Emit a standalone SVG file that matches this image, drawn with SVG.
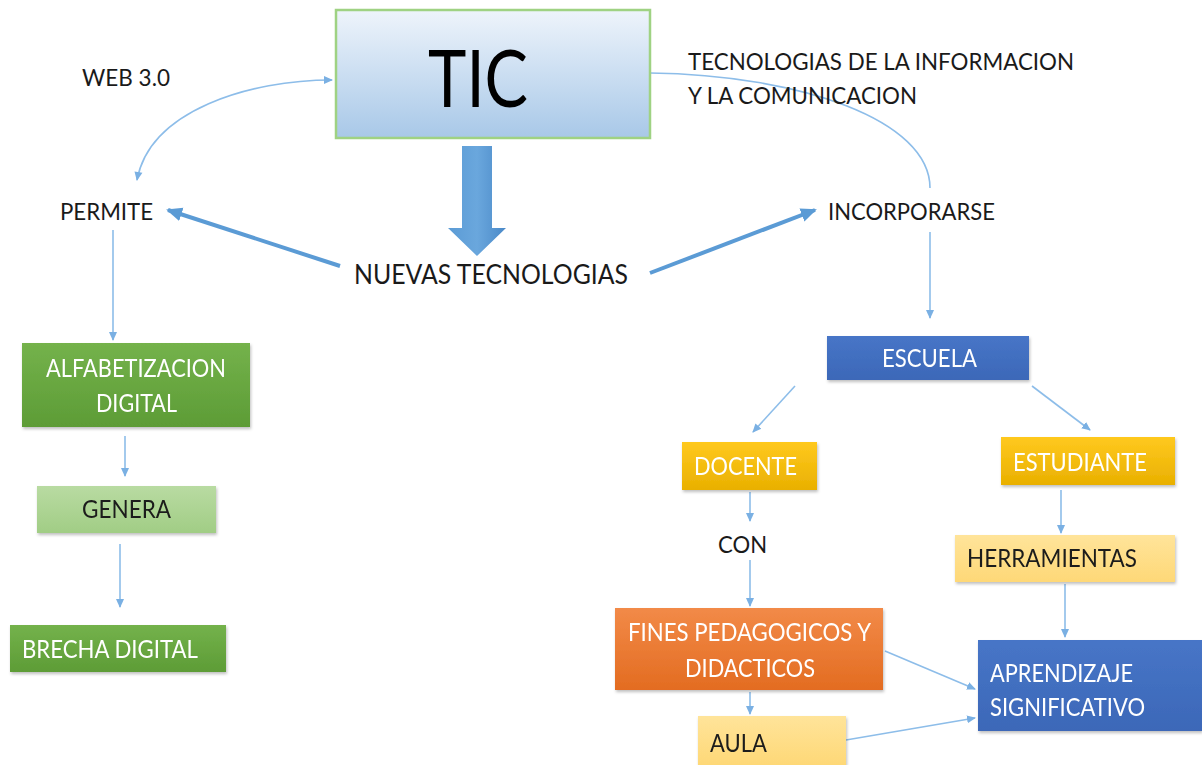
<svg xmlns="http://www.w3.org/2000/svg" width="1202" height="765" viewBox="0 0 1202 765">
<defs>
<linearGradient id="gTic" x1="0" y1="0" x2="0" y2="1"><stop offset="0" stop-color="#eef4fb"/><stop offset="1" stop-color="#a8c8e8"/></linearGradient>
<linearGradient id="gGreen" x1="0" y1="0" x2="0" y2="1"><stop offset="0" stop-color="#74b24b"/><stop offset="1" stop-color="#5d9c36"/></linearGradient>
<linearGradient id="gLgreen" x1="0" y1="0" x2="0" y2="1"><stop offset="0" stop-color="#b9dba2"/><stop offset="1" stop-color="#a1cd85"/></linearGradient>
<linearGradient id="gYellow" x1="0" y1="0" x2="0" y2="1"><stop offset="0" stop-color="#ffc91f"/><stop offset="1" stop-color="#e9b000"/></linearGradient>
<linearGradient id="gLyellow" x1="0" y1="0" x2="0" y2="1"><stop offset="0" stop-color="#ffe49a"/><stop offset="1" stop-color="#fed877"/></linearGradient>
<linearGradient id="gOrange" x1="0" y1="0" x2="0" y2="1"><stop offset="0" stop-color="#f28a48"/><stop offset="1" stop-color="#e36c21"/></linearGradient>
<linearGradient id="gBlue" x1="0" y1="0" x2="0" y2="1"><stop offset="0" stop-color="#4775c7"/><stop offset="1" stop-color="#3c68b8"/></linearGradient>
<linearGradient id="gArrow" x1="0" y1="0" x2="1" y2="0"><stop offset="0" stop-color="#5b9bd5"/><stop offset="0.5" stop-color="#6aa7dd"/><stop offset="1" stop-color="#4a89c8"/></linearGradient>
<marker id="ah" markerWidth="10" markerHeight="10" refX="8" refY="5" orient="auto" markerUnits="userSpaceOnUse"><path d="M0,1 L9,5 L0,9 Z" fill="#7ab0e3"/></marker>
<marker id="ahs" markerWidth="10" markerHeight="10" refX="1" refY="5" orient="auto" markerUnits="userSpaceOnUse"><path d="M9,1 L0,5 L9,9 Z" fill="#7ab0e3"/></marker>
<marker id="ahb" markerWidth="18" markerHeight="16" refX="14" refY="8" orient="auto" markerUnits="userSpaceOnUse"><path d="M0,1 L16,8 L0,15 Z" fill="#5b9bd5"/></marker>
<filter id="sh" x="-10%" y="-10%" width="125%" height="130%"><feDropShadow dx="1" dy="2" stdDeviation="1.5" flood-color="#000" flood-opacity="0.25"/></filter>
</defs>
<style>
text{font-family:Lato,"Open Sans","Liberation Sans",sans-serif;}
.k{fill:#1a1a1a;font-size:24px;}
.w{fill:#ffffff;font-size:25px;}
.d{fill:#1a1a1a;font-size:25px;}
.thin{fill:none;stroke:#8dbde9;stroke-width:1.6;}
.thick{fill:none;stroke:#5b9bd5;stroke-width:4;}
</style>
<rect width="1202" height="765" fill="#ffffff"/>

<g id="connectors">
<path class="thin" d="M137,180 C150,110 250,80 332,80" marker-start="url(#ahs)" marker-end="url(#ah)"/>
<path class="thin" d="M650,73 C800,75 930,120 930,188"/>
<line class="thick" x1="340" y1="266" x2="168" y2="210" marker-end="url(#ahb)"/>
<line class="thick" x1="650" y1="273" x2="815" y2="210" marker-end="url(#ahb)"/>
<path d="M462,146 H492 V228 H506 L477,256 L448,228 H462 Z" fill="url(#gArrow)"/>
<line class="thin" x1="113" y1="230" x2="113" y2="340" marker-end="url(#ah)"/>
<line class="thin" x1="125" y1="436" x2="125" y2="476" marker-end="url(#ah)"/>
<line class="thin" x1="120" y1="544" x2="120" y2="607" marker-end="url(#ah)"/>
<line class="thin" x1="930" y1="232" x2="930" y2="318" marker-end="url(#ah)"/>
<line class="thin" x1="795" y1="386" x2="753" y2="432" marker-end="url(#ah)"/>
<line class="thin" x1="1032" y1="386" x2="1090" y2="430" marker-end="url(#ah)"/>
<line class="thin" x1="750" y1="492" x2="750" y2="521" marker-end="url(#ah)"/>
<line class="thin" x1="750" y1="560" x2="750" y2="606" marker-end="url(#ah)"/>
<line class="thin" x1="1061" y1="490" x2="1061" y2="533" marker-end="url(#ah)"/>
<line class="thin" x1="1065" y1="584" x2="1065" y2="637" marker-end="url(#ah)"/>
<line class="thin" x1="885" y1="651" x2="975" y2="689" marker-end="url(#ah)"/>
<line class="thin" x1="750" y1="692" x2="750" y2="714" marker-end="url(#ah)"/>
<line class="thin" x1="846" y1="740" x2="975" y2="718" marker-end="url(#ah)"/>
</g>

<g id="tic">
<rect x="336" y="10" width="314" height="128" fill="url(#gTic)" stroke="#9fd283" stroke-width="2.5"/>
<text x="478" y="107" font-size="80" text-anchor="middle" fill="#000" textLength="100" lengthAdjust="spacingAndGlyphs">TIC</text>
</g>
<g id="web30"><text class="k" x="82" y="86" textLength="88" lengthAdjust="spacingAndGlyphs">WEB 3.0</text></g>
<g id="tic-def">
<text class="k" x="688" y="70" textLength="386" lengthAdjust="spacingAndGlyphs">TECNOLOGIAS DE LA INFORMACION</text>
<text class="k" x="688" y="104" textLength="229" lengthAdjust="spacingAndGlyphs">Y LA COMUNICACION</text>
</g>
<g id="permite"><text class="k" x="60" y="220" textLength="93" lengthAdjust="spacingAndGlyphs">PERMITE</text></g>
<g id="incorporarse"><text class="k" x="828" y="220" textLength="167" lengthAdjust="spacingAndGlyphs">INCORPORARSE</text></g>
<g id="nuevas"><text x="354" y="284" font-size="26" fill="#1a1a1a" textLength="274" lengthAdjust="spacingAndGlyphs">NUEVAS TECNOLOGIAS</text></g>

<g id="alfabetizacion" filter="url(#sh)">
<rect x="22" y="343" width="228" height="84" fill="url(#gGreen)"/>
<text class="w" x="46" y="377" textLength="180" lengthAdjust="spacingAndGlyphs">ALFABETIZACION</text>
<text class="w" x="96" y="412" textLength="81" lengthAdjust="spacingAndGlyphs">DIGITAL</text>
</g>
<g id="genera" filter="url(#sh)">
<rect x="37" y="486" width="179" height="47" fill="url(#gLgreen)"/>
<text class="d" x="82" y="518" textLength="89" lengthAdjust="spacingAndGlyphs">GENERA</text>
</g>
<g id="brecha" filter="url(#sh)">
<rect x="10" y="625" width="216" height="47" fill="url(#gGreen)"/>
<text class="w" x="22" y="658" textLength="176" lengthAdjust="spacingAndGlyphs">BRECHA DIGITAL</text>
</g>

<g id="escuela" filter="url(#sh)">
<rect x="827" y="336" width="202" height="44" fill="url(#gBlue)"/>
<text class="w" x="882" y="367" textLength="95" lengthAdjust="spacingAndGlyphs">ESCUELA</text>
</g>
<g id="docente" filter="url(#sh)">
<rect x="682" y="442" width="135" height="48" fill="url(#gYellow)"/>
<text class="w" x="694" y="475" textLength="103" lengthAdjust="spacingAndGlyphs">DOCENTE</text>
</g>
<g id="estudiante" filter="url(#sh)">
<rect x="1001" y="437" width="174" height="48" fill="url(#gYellow)"/>
<text class="w" x="1013" y="471" textLength="134" lengthAdjust="spacingAndGlyphs">ESTUDIANTE</text>
</g>
<g id="con"><text class="k" x="718" y="553" textLength="49" lengthAdjust="spacingAndGlyphs">CON</text></g>
<g id="herramientas" filter="url(#sh)">
<rect x="955" y="535" width="220" height="47" fill="url(#gLyellow)"/>
<text class="d" x="967" y="567" textLength="170" lengthAdjust="spacingAndGlyphs">HERRAMIENTAS</text>
</g>
<g id="fines" filter="url(#sh)">
<rect x="615" y="608" width="268" height="82" fill="url(#gOrange)"/>
<text class="w" x="628" y="641" textLength="243" lengthAdjust="spacingAndGlyphs">FINES PEDAGOGICOS Y</text>
<text class="w" x="685" y="677" textLength="130" lengthAdjust="spacingAndGlyphs">DIDACTICOS</text>
</g>
<g id="aprendizaje" filter="url(#sh)">
<rect x="978" y="640" width="224" height="91" fill="url(#gBlue)"/>
<text class="w" x="990" y="682" textLength="143" lengthAdjust="spacingAndGlyphs">APRENDIZAJE</text>
<text class="w" x="990" y="716" textLength="155" lengthAdjust="spacingAndGlyphs">SIGNIFICATIVO</text>
</g>
<g id="aula" filter="url(#sh)">
<rect x="698" y="716" width="148" height="49" fill="url(#gLyellow)"/>
<text class="d" x="710" y="752" textLength="57" lengthAdjust="spacingAndGlyphs">AULA</text>
</g>
</svg>
